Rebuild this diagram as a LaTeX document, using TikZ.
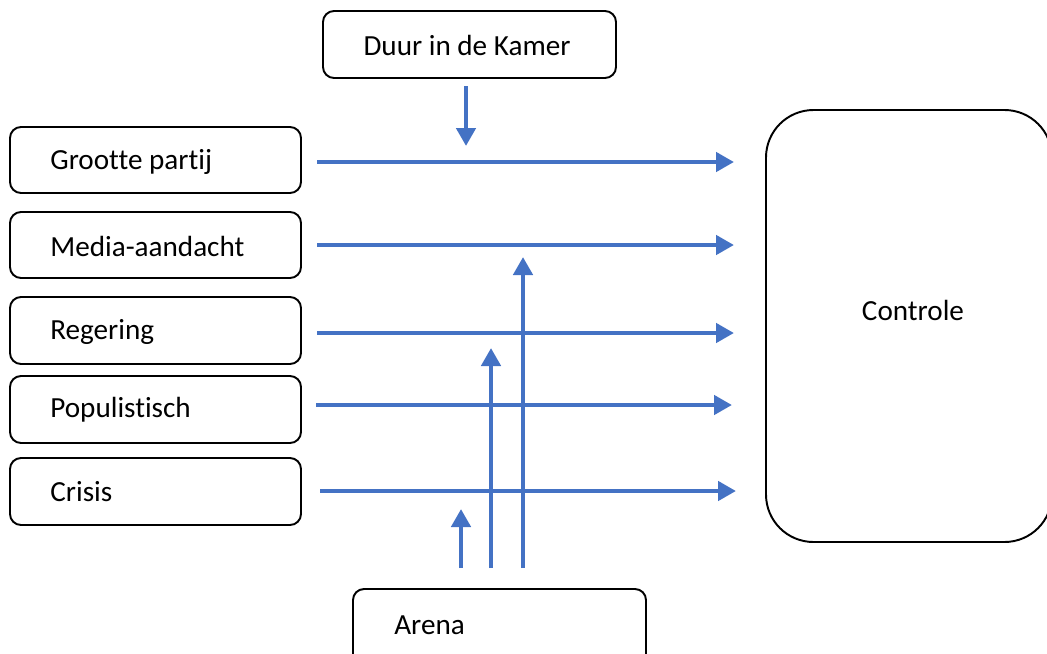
\documentclass[tikz,border=0pt]{standalone}
\usepackage{fontspec}
\setmainfont[RawFeature=-liga]{Carlito}
\usetikzlibrary{arrows.meta}
\definecolor{flow}{HTML}{4472C4}
\begin{document}
\begin{tikzpicture}[x=0.02cm,y=-0.02cm,
  box/.style={draw=black,line width=1.1pt,rounded corners=0.22cm},
  lbl/.style={font=\fontsize{16.6}{19}\selectfont,inner sep=0pt},
  flowarrow/.style={draw=flow,line width=2.8pt,-{Triangle[length=0.36cm,width=0.38cm]}}]
\useasboundingbox (0,0) rectangle (1047,653);
\begin{scope}
\clip (0,0) rectangle (1047,653);
% boxes
\draw[box] (10,127) rectangle (301,193);
\draw[box] (10,212) rectangle (301,278);
\draw[box] (10,297) rectangle (301,364);
\draw[box] (10,376) rectangle (301,443);
\draw[box] (10,458) rectangle (301,525);
\draw[box] (323,11) rectangle (616,78);
\draw[box,rounded corners=0.95cm] (766,110) rectangle (1052,542);
\draw[box] (353,589) rectangle (646,680);
\end{scope}
% labels
\node[lbl,anchor=west] (gp) at (50,162) {Grootte partij};
\node[lbl,anchor=west] (ma) at (50,246) {Media-aandacht};
\node[lbl,anchor=west] (rg) at (50,332) {Regering};
\node[lbl,anchor=west] (pp) at (50,410) {Populistisch};
\node[lbl,anchor=west] (cr) at (50,492) {Crisis};
\node[lbl] (duur) at (467,45) {Duur in de Kamer};
\node[lbl] (ctl) at (913,310) {Controle};
\node[lbl,anchor=west] (ar) at (394,625) {Arena};
% arrow end points
\coordinate (g0) at (317,162); \coordinate (g1) at (734,162);
\coordinate (m0) at (317,245); \coordinate (m1) at (734,245);
\coordinate (r0) at (317,333); \coordinate (r1) at (734,333);
\coordinate (p0) at (316,405); \coordinate (p1) at (732,405);
\coordinate (c0) at (320,491); \coordinate (c1) at (736,491);
\coordinate (d0) at (466,86);  \coordinate (d1) at (466,146);
\coordinate (a0) at (461,568); \coordinate (a1) at (461,509);
\coordinate (b0) at (491,568); \coordinate (b1) at (491,348);
\coordinate (e0) at (523,568); \coordinate (e1) at (523,257);
% connectors
\draw[flowarrow] (g0) -- (g1);
\draw[flowarrow] (m0) -- (m1);
\draw[flowarrow] (r0) -- (r1);
\draw[flowarrow] (p0) -- (p1);
\draw[flowarrow] (c0) -- (c1);
\draw[flowarrow] (d0) -- (d1);
\draw[flowarrow] (a0) -- (a1);
\draw[flowarrow] (b0) -- (b1);
\draw[flowarrow] (e0) -- (e1);
\end{tikzpicture}
\end{document}
